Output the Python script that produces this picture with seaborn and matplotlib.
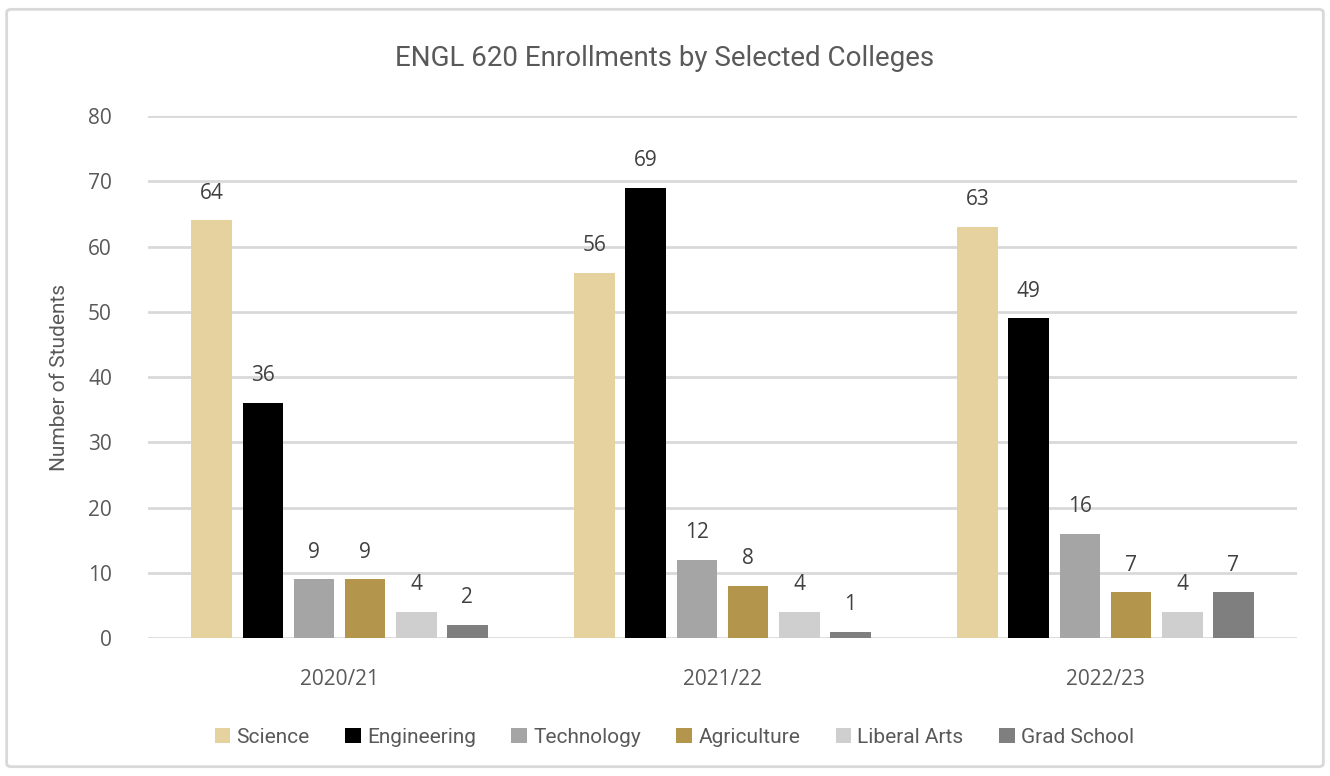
import matplotlib
matplotlib.use("Agg")
import matplotlib.pyplot as plt
from matplotlib.patches import FancyBboxPatch
import seaborn as sns
import pandas as pd

years = ["2020/21", "2021/22", "2022/23"]
colleges = ["Science", "Engineering", "Technology", "Agriculture", "Liberal Arts", "Grad School"]
science = [64, 56, 63]
engineering = [36, 69, 49]
technology = [9, 12, 16]
agriculture = [9, 8, 7]
liberal_arts = [4, 4, 4]
grad_school = [2, 1, 7]
colors = ["#E6D29E", "#000000", "#A5A5A5", "#B3954B", "#D0CFCF", "#7F7F7F"]

series = [science, engineering, technology, agriculture, liberal_arts, grad_school]
df = pd.DataFrame(
    [(y, c, v[i]) for c, v in zip(colleges, series) for i, y in enumerate(years)],
    columns=["Year", "College", "Students"],
)

sns.set_theme(style="white")
narrow = ["Roboto", "DejaVu Sans"]
body = ["Open Sans", "DejaVu Sans"]
text_color = "#595959"

fig = plt.figure(figsize=(13.3, 7.76), dpi=100)
ax = fig.add_axes([0.1113, 0.1778, 0.8639, 0.6727])

# rounded chart frame
frame = FancyBboxPatch((0.005, 0.012), 0.99, 0.976, boxstyle="round,pad=0,rounding_size=0.004",
                       transform=fig.transFigure, facecolor="white", edgecolor="#D9D9D9",
                       linewidth=2, zorder=-10)
fig.patches.append(frame)

sns.barplot(data=df, x="Year", y="Students", hue="College", hue_order=colleges,
            order=years, palette=colors, saturation=1, width=0.8, gap=0.2, ax=ax,
            linewidth=0, legend=True)

for cont in ax.containers:
    ax.bar_label(cont, padding=12, fontsize=15, color="#404040", family=body)

ax.set_ylim(0, 80)
ax.set_yticks(range(0, 81, 10))
ax.set_xlim(-0.5, 2.5)
ax.grid(axis="y", color="#D9D9D9", linewidth=2)
ax.set_axisbelow(True)
for s in ax.spines.values():
    s.set_visible(False)
ax.tick_params(axis="both", length=0, labelsize=15, colors=text_color)
for lbl in ax.get_xticklabels() + ax.get_yticklabels():
    lbl.set_family(body)
ax.tick_params(axis="y", pad=26)
ax.tick_params(axis="x", pad=22)
ax.set_xlabel("")
ax.set_ylabel("Number of Students", fontsize=15, color=text_color, family=narrow, labelpad=14)

fig.suptitle("ENGL 620 Enrollments by Selected Colleges", y=0.942, fontsize=20,
             color=text_color, family=narrow)

handles, labels = ax.get_legend_handles_labels()
ax.legend_.remove()
fig.legend(handles, labels, loc="center", bbox_to_anchor=(0.507, 0.05), ncol=6,
           frameon=False, handlelength=0.75, handleheight=0.75, handletextpad=0.3,
           columnspacing=1.7, prop={"family": narrow, "size": 15}, labelcolor=text_color)

fig.savefig("out.png", dpi=100)
